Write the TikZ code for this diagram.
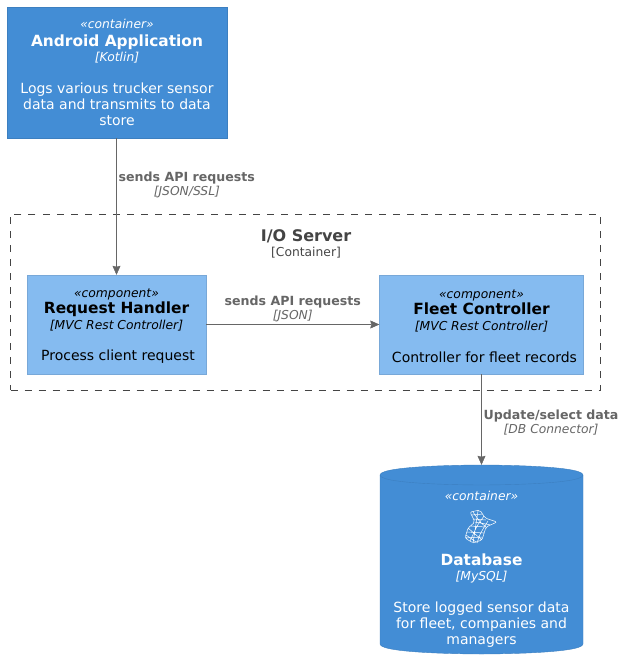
\documentclass[tikz,border=0pt]{standalone}
\usepackage{fontspec}
\setmainfont{DejaVu Sans}
\usetikzlibrary{arrows.meta}
\definecolor{containerblue}{HTML}{438DD5}
\definecolor{containerline}{HTML}{3C7FC0}
\definecolor{componentblue}{HTML}{85BBF0}
\definecolor{componentline}{HTML}{78A8D8}
\definecolor{relgray}{HTML}{666666}
\definecolor{boundarygray}{HTML}{444444}
\newcommand{\sizetw}{\fontsize{12.3}{16.2}\selectfont}
\newcommand{\sizesx}{\fontsize{15.4}{16.2}\selectfont}
\newcommand{\boxtext}[4]{{\sizetw\itshape «#1»}\\[2pt]{\sizesx\bfseries #2}\\[-1pt]{\sizetw\itshape [#3]}\\[15.2pt]#4}
\newcommand{\comptext}[4]{\rule{0pt}{12pt}{\sizetw\itshape «#1»}\\{\sizesx\bfseries #2}\\{\sizetw\itshape [#3]}\\[15.2pt]#4}
\newcommand{\reltext}[2]{{\bfseries #1}\\{\sizetw\itshape [#2]}}
\tikzstyle{container}=[draw=containerline, fill=containerblue, text=white, inner sep=0pt, align=center, font=\fontsize{14}{16.2}\selectfont]
\tikzstyle{component}=[draw=componentline, fill=componentblue, text=black, inner sep=0pt, align=center, font=\fontsize{14}{16.2}\selectfont]
\tikzstyle{boundary}=[draw=boundarygray, dash pattern=on 7pt off 7pt, inner sep=0pt]
\tikzstyle{rel}=[draw=relgray, -{Stealth[inset=1pt,length=9pt,width=8pt]}]
\tikzstyle{rel label}=[text=relgray, inner sep=2pt, align=center, font=\fontsize{12.6}{14}\selectfont]
\tikzstyle{db text}=[text=white, inner sep=0pt, align=center, font=\fontsize{14}{16.2}\selectfont]

\begin{document}
\begin{tikzpicture}[x=1pt,y=-1pt]
    \useasboundingbox (0,0) rectangle (625,659);

    % Boundary
    \draw (305.25,302) node[boundary, minimum width=589.5pt, minimum height=176pt] (ioserver) {};
    \draw (306,244) node[text=boundarygray, inner sep=0pt, align=center, font=\fontsize{16}{16.2}\selectfont] (iotitle) {\textbf{I/O Server}\\[-1pt]{\sizetw [Container]}};

    % Boxes
    \draw (117,72.5) node[container, minimum width=220pt, minimum height=131pt] (android) {\boxtext{container}{Android Application}{Kotlin}{Logs various trucker sensor\\data and transmits to data\\store}};
    \draw (116.5,324.5) node[component, minimum width=179pt, minimum height=99pt] (request) {\comptext{component}{Request Handler}{MVC Rest Controller}{\hspace{3pt}Process client request}};
    \draw (481.5,324.5) node[component, minimum width=204pt, minimum height=99pt] (fleet) {\comptext{component}{Fleet Controller}{MVC Rest Controller}{\hspace{6pt}Controller for fleet records}};

    % Database
    \draw (481.5,559.5) node[minimum width=203pt, minimum height=189pt, inner sep=0pt] (db) {};
    \draw[draw=containerline, fill=containerblue]
    (380,475) .. controls (380,465) and (481.5,465) .. (481.5,465)
    .. controls (481.5,465) and (583,465) .. (583,475) -- (583,644)
    .. controls (583,654) and (481.5,654) .. (481.5,654)
    .. controls (481.5,654) and (380,654) .. (380,644) -- cycle;
    \draw[draw=containerline]
    (380,475) .. controls (380,485) and (481.5,485) .. (481.5,485)
    .. controls (481.5,485) and (583,485) .. (583,475);
    \draw (481.5,496) node[db text] (dbstereo) {{\sizetw\itshape «container»}};
    \draw (481.5,600.5) node[db text] (dbtext) {{\sizesx\bfseries Database}\\[-1pt]{\sizetw\itshape [MySQL]}\\[15.2pt]Store logged sensor data\\for fleet, companies and\\managers};

    % Icon
    \draw[white, line width=.5pt, rounded corners=2pt]
    (470,512) -- (480,510) -- (485,518) -- (497,522) -- (486,527) -- (482,540)
    -- (473,543) -- (465,538) -- (468,528) -- (475,522) -- cycle
    (472,515) -- (483,514) (473,519) -- (486,520) (475,522) -- (491,525)
    (470,526) -- (486,527) (467,532) -- (484,533) (465,538) -- (482,537)
    (473,512) -- (480,522) -- (486,527) (468,528) -- (482,540)
    (466,535) -- (476,542) (484,516) -- (477,526) -- (470,541)
    (478,511) -- (476,524) -- (473,543) (488,521) -- (480,534) -- (477,543);

    % Relations
    \draw[rel] (android.south -| request.north) -- node[rel label, right, pos=.345] (sendsssl) {\reltext{sends API requests}{JSON/SSL}} (request);
    \draw[rel] (request) -- node[rel label, above] (sendsjson) {\reltext{sends API requests}{JSON}} (fleet);
    \draw[rel] (fleet) -- node[rel label, right, pos=.53] (dbconn) {\reltext{Update/select data}{DB Connector}} (db);

\end{tikzpicture}
\end{document}
